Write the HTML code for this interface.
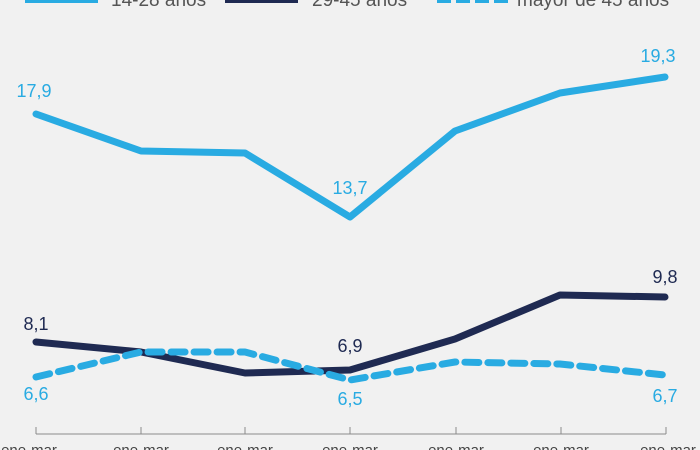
<!DOCTYPE html>
<html><head><meta charset="utf-8"><style>
html,body{margin:0;padding:0;background:#f1f1f1;}
svg{display:block}
text{font-family:"Liberation Sans",sans-serif;}
</style></head><body>
<svg width="700" height="450" viewBox="0 0 700 450">
<rect width="700" height="450" fill="#f1f1f1"/>
<!-- legend -->
<line x1="25" y1="-1" x2="98" y2="-1" stroke="#29abe2" stroke-width="8"/>
<text x="111" y="6" font-size="19" fill="#555">14-28 años</text>
<line x1="225" y1="-1" x2="298" y2="-1" stroke="#1f2a52" stroke-width="8"/>
<text x="312" y="6" font-size="19" fill="#555">29-45 años</text>
<line x1="437" y1="-1" x2="509" y2="-1" stroke="#29abe2" stroke-width="8" stroke-dasharray="14 5"/>
<text x="517" y="6" font-size="19" fill="#555">mayor de 45 años</text>
<!-- axis -->
<g stroke="#8a8a8a" stroke-width="1" fill="none">
<line x1="36" y1="434" x2="666" y2="434"/>
<line x1="36" y1="427" x2="36" y2="434"/><line x1="141" y1="427" x2="141" y2="434"/>
<line x1="245" y1="427" x2="245" y2="434"/><line x1="350" y1="427" x2="350" y2="434"/>
<line x1="456" y1="427" x2="456" y2="434"/><line x1="561" y1="427" x2="561" y2="434"/>
<line x1="666" y1="427" x2="666" y2="434"/>
</g>
<g font-size="15" fill="#444" text-anchor="middle">
<text x="29" y="455">ene-mar</text><text x="141" y="455">ene-mar</text><text x="245" y="455">ene-mar</text>
<text x="350" y="455">ene-mar</text><text x="456" y="455">ene-mar</text><text x="561" y="455">ene-mar</text>
<text x="668" y="455">ene-mar</text>
</g>
<!-- series -->
<polyline points="36,114 141,151 245,153 350,217 455,131 560,93 665,77" fill="none" stroke="#29abe2" stroke-width="7" stroke-linejoin="round" stroke-linecap="round"/>
<polyline points="36,342 141,352 245,373 350,370 455,339 560,295 665,297" fill="none" stroke="#1f2a52" stroke-width="7" stroke-linejoin="round" stroke-linecap="round"/>
<polyline points="36,377 141,352 245,352 350,380 455,362 560,364 665,375" fill="none" stroke="#29abe2" stroke-width="7" stroke-linejoin="round" stroke-linecap="round" stroke-dasharray="14 9"/>
<!-- labels -->
<g font-size="18" text-anchor="middle">
<text x="34" y="97" fill="#29abe2">17,9</text>
<text x="658" y="62" fill="#29abe2">19,3</text>
<text x="350" y="194" fill="#29abe2">13,7</text>
<text x="36" y="330" fill="#1f2a52">8,1</text>
<text x="350" y="352" fill="#1f2a52">6,9</text>
<text x="665" y="283" fill="#1f2a52">9,8</text>
<text x="36" y="400" fill="#29abe2">6,6</text>
<text x="350" y="405" fill="#29abe2">6,5</text>
<text x="665" y="402" fill="#29abe2">6,7</text>
</g>
</svg>
</body></html>
